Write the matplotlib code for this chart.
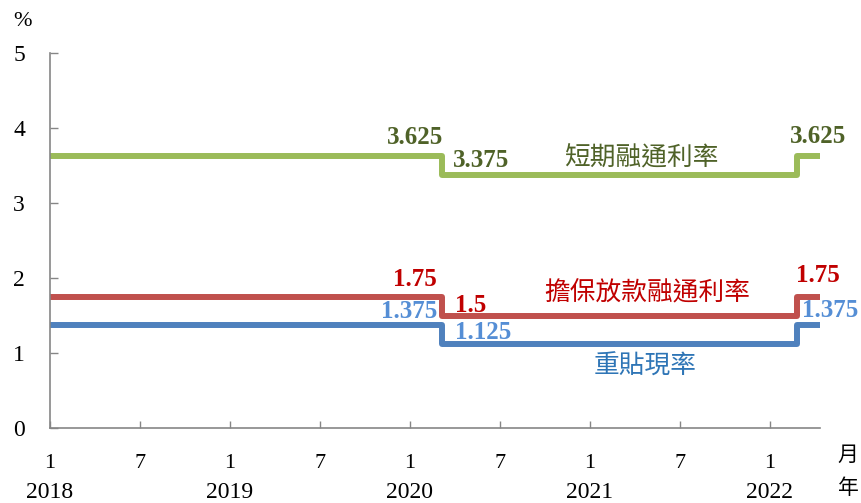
import matplotlib
matplotlib.use("Agg")
import matplotlib.pyplot as plt

# Month index: 0 = January 2018
change_points = [0, 26.15, 49.8, 51.5]          # segment boundaries (month index)
short_term = [3.625, 3.375, 3.625]               # 短期融通利率
secured = [1.75, 1.5, 1.75]                      # 擔保放款融通利率
discount = [1.375, 1.125, 1.375]                 # 重貼現率

tick_months = [0, 6, 12, 18, 24, 30, 36, 42, 48]
tick_labels = ["1", "7", "1", "7", "1", "7", "1", "7", "1"]
years = ["2018", "2019", "2020", "2021", "2022"]
year_months = [0, 12, 24, 36, 48]

SERIF = ["Liberation Serif", "DejaVu Serif"]
CJK = ["Noto Sans CJK TC", "DejaVu Sans"]

fig = plt.figure(figsize=(8.61, 5.03), dpi=100)
ax = fig.add_axes([50 / 861, 75 / 503, 770 / 861, 375 / 503])

series = [
    (short_term, "#9BBB59", "#4F6228", "短期融通利率", "#4F6228"),
    (secured, "#C0504D", "#C00000", "擔保放款融通利率", "#C00000"),
    (discount, "#4F81BD", "#558ED5", "重貼現率", "#2E75B6"),
]

for vals, color, *_ in series:
    ax.step(change_points, vals + [vals[-1]], where="post", color=color,
            lw=4.3, solid_joinstyle="round", solid_capstyle="butt")

ax.set_xlim(0, 51.35)
ax.set_ylim(0, 5)
ax.set_yticks([0, 1, 2, 3, 4, 5])
ax.set_xticks(tick_months)
ax.set_xticklabels(tick_labels, fontsize=16, family=SERIF)
for lab in ax.get_yticklabels():
    lab.set_family(SERIF)
    lab.set_fontsize(17)

for side in ("top", "right"):
    ax.spines[side].set_visible(False)
for side in ("left", "bottom"):
    ax.spines[side].set_color("#868686")
    ax.spines[side].set_linewidth(1.2)
ax.tick_params(axis="y", direction="in", length=6, width=1, color="#868686", pad=18)
ax.tick_params(axis="x", direction="in", length=5, width=1, color="#868686", pad=19)

# Year labels beneath the January ticks
for m, y in zip(year_months, years):
    ax.annotate(y, xy=(m, 0), xycoords="data", xytext=(0, -64),
                textcoords="offset pixels", ha="center", va="center",
                fontsize=17, family=SERIF, annotation_clip=False)

fig.text(848 / 861, 1 - 455 / 503, "月", fontsize=15, family=CJK, ha="center", va="center")
fig.text(848 / 861, 1 - 488 / 503, "年", fontsize=15, family=CJK, ha="center", va="center")
fig.text(22 / 861, 1 - 22 / 503, "%", fontsize=16, family=SERIF, ha="center", va="center")

cut, hike, end = change_points[1], change_points[2], change_points[3]

# Value labels: (x, value, offset px, alignment)
def vlabel(x, val, dx, dy, ha, color):
    ax.annotate(f"{val:g}", xy=(x, val), xytext=(dx, dy), textcoords="offset pixels",
                ha=ha, va="center", fontsize=18, fontweight="bold", family=SERIF,
                color=color, annotation_clip=False)

# short-term accommodation rate
vlabel(cut, short_term[0], 1, 19, "right", "#4F6228")
vlabel(cut, short_term[1], 11, 14, "left", "#4F6228")
vlabel(end, short_term[2], -4, 20, "center", "#4F6228")
# secured loan rate
vlabel(cut, secured[0], -5, 17, "right", "#C00000")
vlabel(cut, secured[1], 13, 10, "left", "#C00000")
vlabel(end, secured[2], -4, 21, "center", "#C00000")
# discount rate
vlabel(cut, discount[0], -5, 13, "right", "#558ED5")
vlabel(cut, discount[1], 13, 11, "left", "#558ED5")
vlabel(end, discount[2], 8, 14, "center", "#558ED5")

# Series names
name_pos = [(641, 158), (647, 293), (645, 367)]
for (vals, _c, _lc, name, ncolor), (px, py) in zip(series, name_pos):
    fig.text(px / 861, 1 - py / 503, name, fontsize=18.5, family=CJK,
             color=ncolor, ha="center", va="center")

fig.savefig("out.png", dpi=100)
